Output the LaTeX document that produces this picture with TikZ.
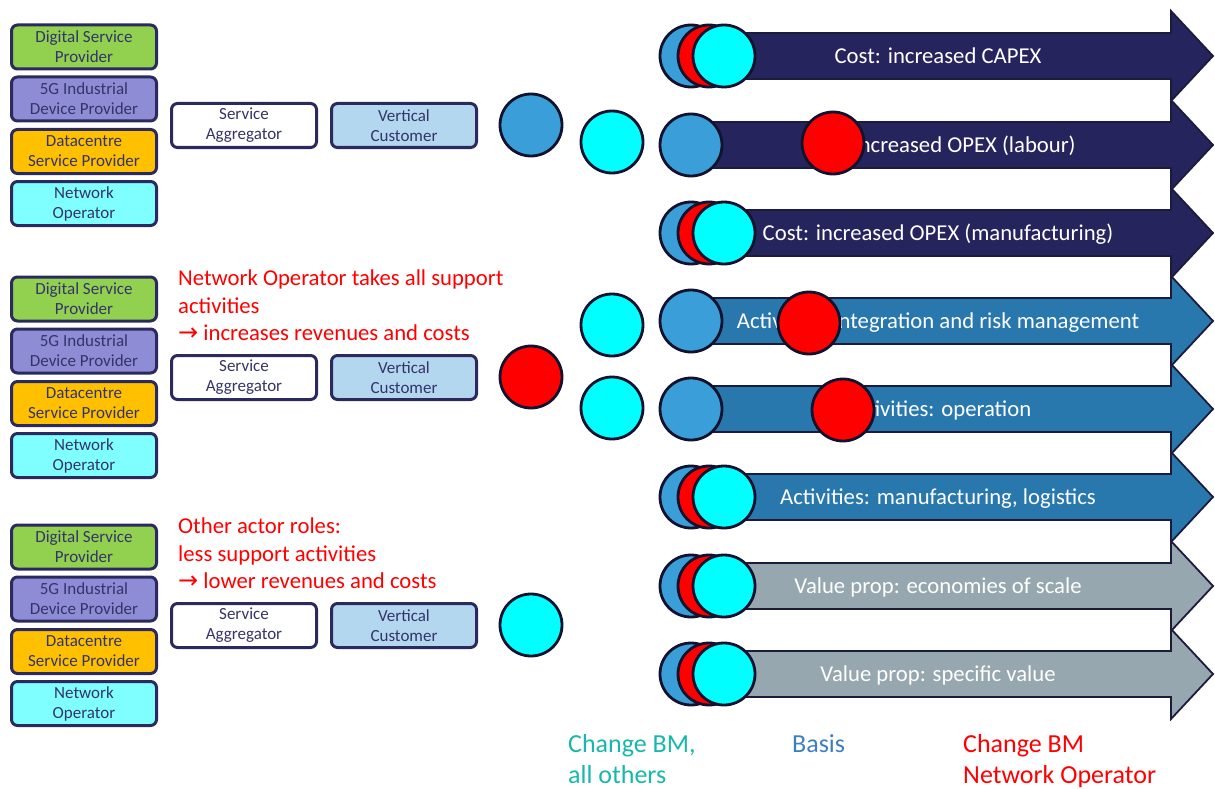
\documentclass[tikz,border=0pt]{standalone}
\usepackage{fontspec}
\setmainfont{Carlito}
\newfontfamily\symfont{DejaVu Sans}
\newcommand{\redarrow}{{\symfont\fontsize{24}{27.5}\selectfont →}}
\begin{document}
\definecolor{frame}{HTML}{2B2A5E}
\definecolor{boxtext}{HTML}{34346A}
\definecolor{dsp}{HTML}{92D050}
\definecolor{idp}{HTML}{8F8CD6}
\definecolor{dcp}{HTML}{FFC000}
\definecolor{nop}{HTML}{7FFFFF}
\definecolor{vcust}{HTML}{B4D7F0}
\definecolor{basis}{HTML}{3A9FD8}
\definecolor{chall}{HTML}{00FFFF}
\definecolor{chno}{HTML}{FF0000}
\definecolor{ring}{HTML}{12122E}
\definecolor{costc}{HTML}{26245C}
\definecolor{actc}{HTML}{2878AE}
\definecolor{valc}{HTML}{97A7AF}
\definecolor{arrowedge}{HTML}{1B1B3D}
\definecolor{legteal}{HTML}{17B8AB}
\definecolor{legblue}{HTML}{3D7FC1}
\begin{tikzpicture}[x=1pt,y=-1pt,
  rolebox/.style={draw=frame,line width=3pt,rounded corners=6pt,minimum width=145pt,minimum height=44pt,
    inner sep=0pt,align=center,text=boxtext,font=\fontsize{17}{20}\selectfont},
  dot/.style={circle,draw=ring,line width=2.8pt,minimum size=62pt,inner sep=0pt},
  barrow/.style={draw=arrowedge,line width=1.8pt,line join=miter},
  arrowtext/.style={text=white,font=\fontsize{22.7}{26}\selectfont,inner sep=0pt,anchor=base},
  note/.style={text=chno,align=left,anchor=north west,inner sep=0pt,font=\fontsize{22.7}{27.5}\selectfont},
  legend/.style={align=left,anchor=north west,inner sep=0pt,font=\fontsize{26}{31}\selectfont}]
\useasboundingbox (0,0) rectangle (1215,789);

% three scenarios of actor roles
\foreach \g/\off/\fillc in {a/0/basis, b/252/chno, c/500/chall}{
  \node[rolebox,fill=dsp] (dsp\g) at (84,47+\off) {Digital Service\\Provider};
  \node[rolebox,fill=idp] (idp\g) at (84,99+\off) {5G Industrial\\Device Provider};
  \node[rolebox,fill=dcp] (dcp\g) at (84,151.5+\off) {Datacentre\\Service Provider};
  \node[rolebox,fill=nop] (nop\g) at (84,203.5+\off) {Network\\Operator};
  \node[rolebox,fill=white] (agg\g) at (244,125.5+\off) {Service\\Aggregator};
  \node[rolebox,fill=vcust] (vc\g) at (404,125.5+\off) {Vertical\\Customer};
  \node[dot,fill=\fillc] (sc\g) at (531,125+\off) {};
}

\node[note] (noteb) at (178,270) {Network Operator takes all support\\activities\\\redarrow{} increases revenues and costs};
\node[note] (notec) at (178,518) {Other actor roles:\\less support activities\\\redarrow{} lower revenues and costs};

% cyan markers between the scenarios and the bars
\node[dot,fill=chall] (m1) at (612,142) {};
\node[dot,fill=chall] (m2) at (612,325) {};
\node[dot,fill=chall] (m3) at (612,408) {};

% block arrows
\foreach \i/\c/\col/\txt in {
  1/56/costc/{Cost: increased CAPEX},
  2/145/costc/{Cost: increased OPEX (labour)},
  3/233/costc/{Cost: increased OPEX (manufacturing)},
  4/321/actc/{Activities: integration and risk management},
  5/409/actc/{Activities: operation},
  6/497/actc/{Activities: manufacturing, logistics},
  7/586/valc/{Value prop: economies of scale},
  8/674/valc/{Value prop: specific value}}{
  \draw[barrow,fill=\col] (690,\c-23) -- (1171,\c-23) -- (1171,\c-45) -- (1213,\c) -- (1171,\c+45)
     -- (1171,\c+23) -- (690,\c+23) -- cycle;
  \node[arrowtext] (t\i) at (938,\c+7.5) {\txt};
}

% markers on the bars: basis, then changes
\foreach \i/\c in {1/56,3/233,6/497,7/586,8/674}{
  \node[dot,fill=basis] (b\i) at (691,\c) {};
  \node[dot,fill=chno] (r\i) at (709,\c) {};
  \node[dot,fill=chall] (k\i) at (724,\c) {};
}
\foreach \i/\c in {2/145,4/321,5/409}{
  \node[dot,fill=basis] (b\i) at (691,\c) {};
}
\node[dot,fill=chno] (r2) at (833,143) {};
\node[dot,fill=chno] (r4) at (809,323) {};
\node[dot,fill=chno] (r5) at (843,410) {};

% legend
\node[legend,text=legteal] (l1) at (568,734) {Change BM,\\all others};
\node[legend,text=legblue] (l2) at (792,734) {Basis};
\node[legend,text=chno] (l3) at (963,734) {Change BM\\Network Operator};
\end{tikzpicture}
\end{document}
